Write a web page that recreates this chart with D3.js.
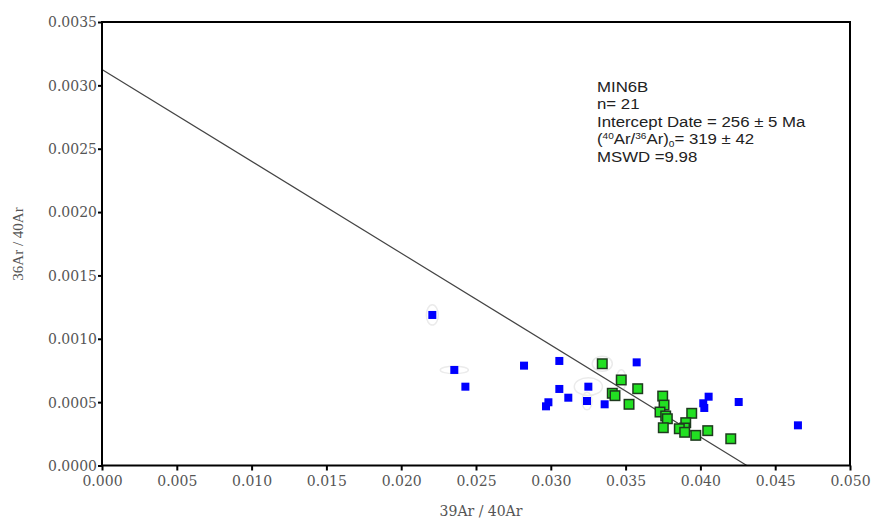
<!DOCTYPE html>
<html><head><meta charset="utf-8">
<script src="https://cdn.jsdelivr.net/npm/d3@7"></script>
<style>body{margin:0;background:#fff;}svg{display:block;}</style>
</head><body>
<svg id="c" width="877" height="520"></svg>
<script>
// Data
const blueX = [0.02208,0.02355,0.02429,0.02821,0.03057,0.03057,0.02984,0.02968,0.03117,0.03251,0.03242,0.03360,0.03574,0.04055,0.04019,0.04026,0.04256,0.04652];
const blueY = [0.001188,0.000754,0.000622,0.000788,0.000825,0.000604,0.000499,0.000467,0.000535,0.000622,0.000509,0.000483,0.000814,0.000543,0.000491,0.000454,0.000501,0.000317];
const greenX = [0.03344,0.03471,0.03581,0.03411,0.03429,0.03523,0.03748,0.03757,0.03730,0.03768,0.03779,0.03752,0.03942,0.03902,0.03894,0.03859,0.03895,0.03969,0.04049,0.04203];
const greenY = [0.000803,0.000675,0.000606,0.000570,0.000551,0.000483,0.000548,0.000477,0.000422,0.000391,0.000369,0.000298,0.000412,0.000338,0.000296,0.000290,0.000262,0.000238,0.000275,0.000211];
// error ellipses
const ellX = [0.02208,0.02355,0.03251,0.03242,0.03344,0.03471];
const ellY = [0.001188,0.000754,0.000622,0.000509,0.000803,0.000675];
const ellEX = [0.0004,0.00094,0.00094,0.00033,0.00067,0.00033];
const ellEY = [0.00008,0.00003,0.00007,0.00007,0.00006,0.00008];
const lineY0 = 0.003126;   // y-intercept
const lineX0 = 0.0431;     // x-intercept
const xTicks = [0,0.005,0.01,0.015,0.02,0.025,0.03,0.035,0.04,0.045,0.05];
const yTicks = [0,0.0005,0.001,0.0015,0.002,0.0025,0.003,0.0035];
const annot = ["MIN6B","n= 21","Intercept Date = 256 ± 5 Ma","(⁴⁰Ar/³⁶Ar)₀= 319 ± 42","MSWD =9.98"];

const svg = d3.select("#c");
const L=102,R=850,T=22,B=465.5;
const x = d3.scaleLinear().domain([0,0.05]).range([L,R]);
const y = d3.scaleLinear().domain([0,0.0035]).range([B,T]);

svg.append("g").selectAll("ellipse").data(ellX).join("ellipse")
  .attr("cx",(d)=>x(d)).attr("cy",(d,i)=>y(ellY[i]))
  .attr("rx",(d,i)=>x(ellEX[i])-x(0)).attr("ry",(d,i)=>y(0)-y(ellEY[i]))
  .attr("fill","none").attr("stroke","#ebebeb").attr("stroke-width",1.5);

const bs=8;
svg.append("g").selectAll("rect").data(blueX).join("rect")
  .attr("x",(d)=>x(d)-bs/2).attr("y",(d,i)=>y(blueY[i])-bs/2)
  .attr("width",bs).attr("height",bs).attr("fill","#0000ff");

svg.append("line").attr("x1",x(0)).attr("y1",y(lineY0)).attr("x2",x(lineX0)).attr("y2",y(0))
  .attr("stroke","#444").attr("stroke-width",1.2);

const gs=9.5;
svg.append("g").selectAll("rect").data(greenX).join("rect")
  .attr("x",(d)=>x(d)-gs/2).attr("y",(d,i)=>y(greenY[i])-gs/2)
  .attr("width",gs).attr("height",gs).attr("fill","#22e022")
  .attr("stroke","#1e3a1e").attr("stroke-width",1.5);

const xa = svg.append("g").attr("transform",`translate(0,${B})`)
  .call(d3.axisBottom(x).tickValues(xTicks).tickFormat(d3.format(".3f")).tickSize(5).tickSizeOuter(0));
const ya = svg.append("g").attr("transform",`translate(${L},0)`)
  .call(d3.axisLeft(y).tickValues(yTicks).tickFormat(d3.format(".4f")).tickSize(4).tickSizeOuter(0));
[xa,ya].forEach(a=>{
  a.select(".domain").remove();
  a.selectAll(".tick line").attr("stroke","#000").attr("stroke-width",2);
  a.selectAll(".tick text").attr("fill","#555").style("font-family","DejaVu Serif").style("font-size","14px");
});
xa.selectAll(".tick text").attr("dy","1.05em").attr("y",6);
ya.selectAll(".tick text").attr("x",-5).attr("dy","0.35em");

svg.append("rect").attr("x",L).attr("y",T).attr("width",R-L).attr("height",B-T)
  .attr("fill","none").attr("stroke","#000").attr("stroke-width",2);

svg.append("text").attr("x",481).attr("y",516).attr("text-anchor","middle")
  .attr("fill","#555").style("font-family","DejaVu Serif").style("font-size","14px").text("39Ar / 40Ar");
svg.append("text").attr("transform","translate(23,244) rotate(-90)").attr("text-anchor","middle")
  .attr("fill","#555").style("font-family","Liberation Serif").style("font-size","15px").text("36Ar / 40Ar");

const ag = svg.append("g").attr("transform","translate(597,0) scale(1.12,1)")
  .style("font-family","Liberation Sans, Arial").style("font-size","15px").attr("fill","#222");
const ys=[92,109.5,127,144.5,162];
ag.append("text").attr("x",0).attr("y",ys[0]).text(annot[0]);
ag.append("text").attr("x",0).attr("y",ys[1]).text(annot[1]);
ag.append("text").attr("x",0).attr("y",ys[2]).text(annot[2]);
const t4 = ag.append("text").attr("x",0).attr("y",ys[3]);
t4.append("tspan").text("(");
t4.append("tspan").attr("font-size","9px").attr("dy",-5).text("40");
t4.append("tspan").attr("dy",5).text("Ar/");
t4.append("tspan").attr("font-size","9px").attr("dy",-5).text("36");
t4.append("tspan").attr("dy",5).text("Ar)");
t4.append("tspan").attr("font-size","9px").attr("dy",3).text("0");
t4.append("tspan").attr("dy",-3).text("= 319 ± 42");
ag.append("text").attr("x",0).attr("y",ys[4]).text(annot[4]);
</script>
</body></html>
